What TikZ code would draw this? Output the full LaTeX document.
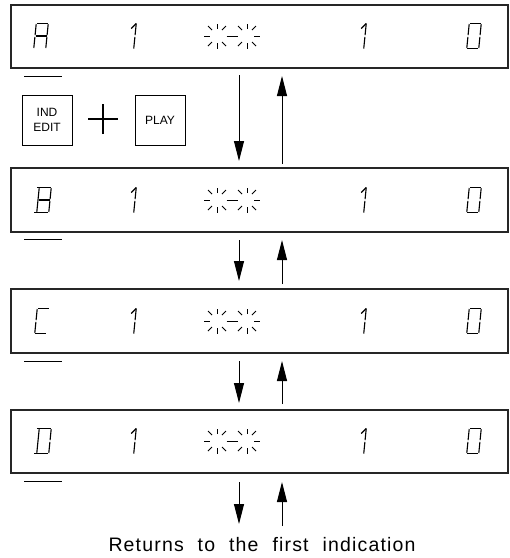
\documentclass[tikz,border=0pt]{standalone}
\usepackage{fontspec}
\setmainfont{Liberation Sans}
\usetikzlibrary{arrows.meta}
\tikzset{
  panel/.style={draw=black!85, line width=1.3pt, minimum width=497pt, inner sep=0pt},
  seg/.style={line width=1.1pt},
  tick/.style={line width=1pt},
  uline/.style={line width=1pt},
  flow/.style={line width=1pt, -{Triangle[length=20pt,width=10pt]}},
  keybox/.style={draw, line width=1pt, minimum width=50pt, minimum height=50pt,
    font=\fontsize{12}{14}\selectfont, align=center, inner sep=0pt},
  plussign/.style={line width=2.8pt},
  caption/.style={font=\fontsize{19.5}{22}\selectfont, inner sep=0pt},
}
\newcommand{\sgT}{\draw[seg] (-5.5,-12.5) -- (5.5,-12.5);}
\newcommand{\sgM}{\draw[seg] (-5.5,0) -- (5.5,0);}
\newcommand{\sgB}{\draw[seg] (-5.5,12.5) -- (5.5,12.5);}
\newcommand{\sgUL}{\draw[seg] (-6,-12) -- (-6,-0.8);}
\newcommand{\sgLL}{\draw[seg] (-6,0.8) -- (-6,12);}
\newcommand{\sgUR}{\draw[seg] (6,-12) -- (6,-0.8);}
\newcommand{\sgLR}{\draw[seg] (6,0.8) -- (6,12);}
\newcommand{\glyph}[3]{\begin{scope}[shift={(#1,#2)},xslant=0.1]#3\end{scope}}
\newcommand{\one}[2]{\begin{scope}[shift={(#1,#2)},xslant=0.1]
  \draw[seg] (1,-12.5) -- (1,-0.8); \draw[seg] (1,0.8) -- (1,12.5);
  \draw[seg] (1,-12.5) -- (-3.5,-7.5);\end{scope}}
\newcommand{\burstpart}[2]{\begin{scope}[shift={(#1,#2)}]
  \draw[tick] (0,-7) -- (0,-12.5); \draw[tick] (0,7) -- (0,12.5);
  \draw[tick] (-5,-6) -- (-9,-10); \draw[tick] (5,-6) -- (9,-10);
  \draw[tick] (-5,6) -- (-9,10); \draw[tick] (5,6) -- (9,10);
  \end{scope}}
\newcommand{\burst}[2]{%
  \burstpart{#1-15}{#2}\burstpart{#1+15}{#2}%
  \draw[tick] (#1-28,#2) -- (#1-22,#2);
  \draw[tick] (#1+22,#2) -- (#1+28,#2);
  \draw[tick] (#1-5.5,#2) -- (#1+5.5,#2);}
\newcommand{\row}[1]{%
  \one{134}{#1}\burst{232}{#1}\one{364}{#1}%
  \glyph{474}{#1}{\sgT\sgUL\sgLL\sgUR\sgLR\sgB}}
\begin{document}
\begin{tikzpicture}[x=1pt,y=-1pt]
\useasboundingbox (0,0) rectangle (510,558);
% panels
\node[panel, minimum height=63pt] (pA) at (259.5,36.5) {};
\node[panel, minimum height=64pt] (pB) at (259.5,200) {};
\node[panel, minimum height=64pt] (pC) at (259.5,321) {};
\node[panel, minimum height=63pt] (pD) at (259.5,441.5) {};
% display contents
\glyph{41}{36}{\sgT\sgUL\sgLL\sgUR\sgLR\sgM}
\row{36}
\glyph{44}{200}{\draw[seg] (-8.5,-12.5) -- (5.5,-12.5); \draw[seg] (-8.5,12.5) -- (5.5,12.5); \draw[seg] (-6,-12) -- (-6,12); \sgUR\sgLR\draw[seg] (-5.5,0) -- (5.5,0);}
\row{200}
\glyph{42}{321}{\sgT\sgUL\sgLL\sgB}
\row{321}
\glyph{44}{441}{\draw[seg] (-8.5,-12.5) -- (5.5,-12.5); \draw[seg] (-8.5,12.5) -- (5.5,12.5); \draw[seg] (-6,-12) -- (-6,12); \sgUR\sgLR}
\row{441}
% underlines
\foreach \yy/\nm in {76/uA,239/uB,361/uC,481/uD}{
  \coordinate (\nm l) at (24,\yy); \coordinate (\nm r) at (62,\yy);
  \draw[uline] (\nm l) -- (\nm r);}
% keys
\node[keybox] (kind) at (47,120) {IND\\[1pt]EDIT};
\node[keybox] (kplay) at (160,120) {PLAY};
\coordinate (pc) at (103,119);
\draw[plussign] ([xshift=-15pt]pc) -- ([xshift=15pt]pc);
\draw[plussign] ([yshift=-15pt]pc) -- ([yshift=15pt]pc);
% arrows
\coordinate (d1s) at (239,75);  \coordinate (d1e) at (239,161);
\coordinate (u1s) at (282,164); \coordinate (u1e) at (282,76);
\coordinate (d2s) at (239,240); \coordinate (d2e) at (239,281);
\coordinate (u2s) at (282,284); \coordinate (u2e) at (282,240);
\coordinate (d3s) at (239,361); \coordinate (d3e) at (239,403);
\coordinate (u3s) at (282,404); \coordinate (u3e) at (282,361);
\coordinate (d4s) at (239,482); \coordinate (d4e) at (239,524);
\coordinate (u4s) at (282,526); \coordinate (u4e) at (282,482);
\foreach \a in {d1,u1,d2,u2,d3,u3,d4,u4}{\draw[flow] (\a s) -- (\a e);}
% caption
\node[caption] (cap) at (262,545) {\addfontfeature{LetterSpace=6}\makebox[307pt][s]{Returns to the first indication}};
\end{tikzpicture}
\end{document}
